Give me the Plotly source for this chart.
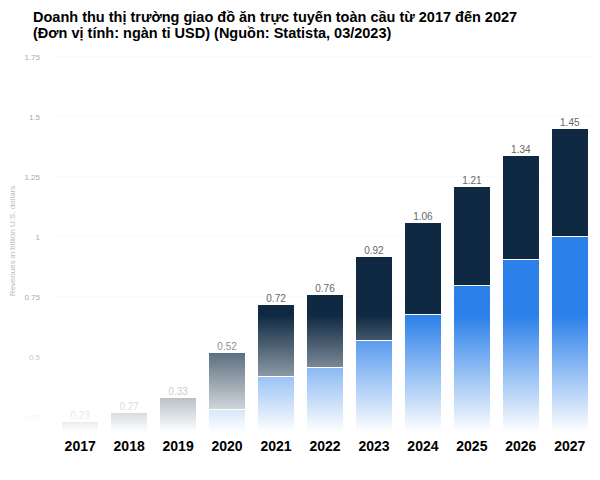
import base64

import plotly.graph_objects as go

years = ["2017", "2018", "2019", "2020", "2021", "2022", "2023", "2024", "2025", "2026", "2027"]
totals = [0.23, 0.27, 0.33, 0.52, 0.72, 0.76, 0.92, 1.06, 1.21, 1.34, 1.45]
# lower (blue) segment
lower = [0.12, 0.15, 0.19, 0.28, 0.42, 0.455, 0.567, 0.678, 0.797, 0.908, 1.0]
upper = [round(t - b, 3) for t, b in zip(totals, lower)]
total_labels = [f"{t:.2f}" for t in totals]
title_lines = [
    "Doanh thu thị trường giao đồ ăn trực tuyến toàn cầu từ 2017 đến 2027",
    "(Đơn vị tính: ngàn tỉ USD) (Nguồn: Statista, 03/2023)",
]

NAVY = "#0f2942"
BLUE = "#2c80ea"
FONT = "Liberation Sans, Arial, sans-serif"

# white fade over the lower part of the plot, as in the source image
fade_svg = (
    '<svg xmlns="http://www.w3.org/2000/svg" width="10" height="100" viewBox="0 0 10 100" '
    'preserveAspectRatio="none"><defs><linearGradient id="g" x1="0" y1="0" x2="0" y2="1">'
    '<stop offset="0" stop-color="#ffffff" stop-opacity="0"/>'
    '<stop offset="1" stop-color="#ffffff" stop-opacity="1"/>'
    '</linearGradient></defs><rect width="10" height="100" fill="url(#g)"/></svg>'
)
fade_src = "data:image/svg+xml;base64," + base64.b64encode(fade_svg.encode()).decode()

fig = go.Figure()
fig.add_trace(
    go.Bar(
        x=years,
        y=lower,
        marker={"color": BLUE, "line": {"color": "white", "width": 1}},
        hoverinfo="skip",
    )
)
fig.add_trace(
    go.Bar(
        x=years,
        y=upper,
        marker={"color": NAVY, "line": {"color": "white", "width": 1}},
        hoverinfo="skip",
    )
)
fig.add_trace(
    go.Scatter(
        x=years,
        y=totals,
        mode="text",
        text=total_labels,
        textposition="top center",
        textfont={"family": FONT, "size": 10, "color": "#666666"},
        hoverinfo="skip",
    )
)

# title as two annotations so the line spacing can match
for line, ypos in zip(title_lines, [1.0865, 1.0445]):
    fig.add_annotation(
        text=line,
        xref="paper",
        yref="paper",
        x=-0.0405,
        y=ypos,
        xanchor="left",
        yanchor="middle",
        showarrow=False,
        font={"family": FONT, "size": 14.5, "color": "black", "weight": "bold"},
    )

fig.update_layout(
    width=600,
    height=480,
    barmode="stack",
    bargap=0.24,
    showlegend=False,
    plot_bgcolor="white",
    paper_bgcolor="white",
    margin={"l": 45, "r": 11, "t": 42, "b": 56},
    images=[
        {
            "source": fade_src,
            "xref": "paper",
            "yref": "paper",
            "x": -0.12,
            "y": 0.306,
            "sizex": 1.13,
            "sizey": 0.306,
            "xanchor": "left",
            "yanchor": "top",
            "sizing": "stretch",
            "layer": "above",
        }
    ],
)

fig.update_xaxes(
    showgrid=False,
    showline=False,
    ticks="",
    ticklabelstandoff=4,
    automargin=False,
    tickfont={"family": FONT, "size": 14, "color": "black", "weight": "bold"},
)
fig.update_yaxes(
    range=[0.1875, 1.779],
    tickvals=[0.25, 0.5, 0.75, 1, 1.25, 1.5, 1.75],
    ticktext=["0.25", "0.5", "0.75", "1", "1.25", "1.5", "1.75"],
    showgrid=True,
    gridcolor="#fafafa",
    zeroline=False,
    showline=False,
    ticks="",
    ticklabelstandoff=12,
    automargin=False,
    tickfont={"family": FONT, "size": 8, "color": "#aaaaaa"},
    title={
        "text": "Revenues in billion U.S. dollars",
        "font": {"family": FONT, "size": 8, "color": "#bbbbbb"},
        "standoff": 11,
    },
)

fig.write_html("out.html")
